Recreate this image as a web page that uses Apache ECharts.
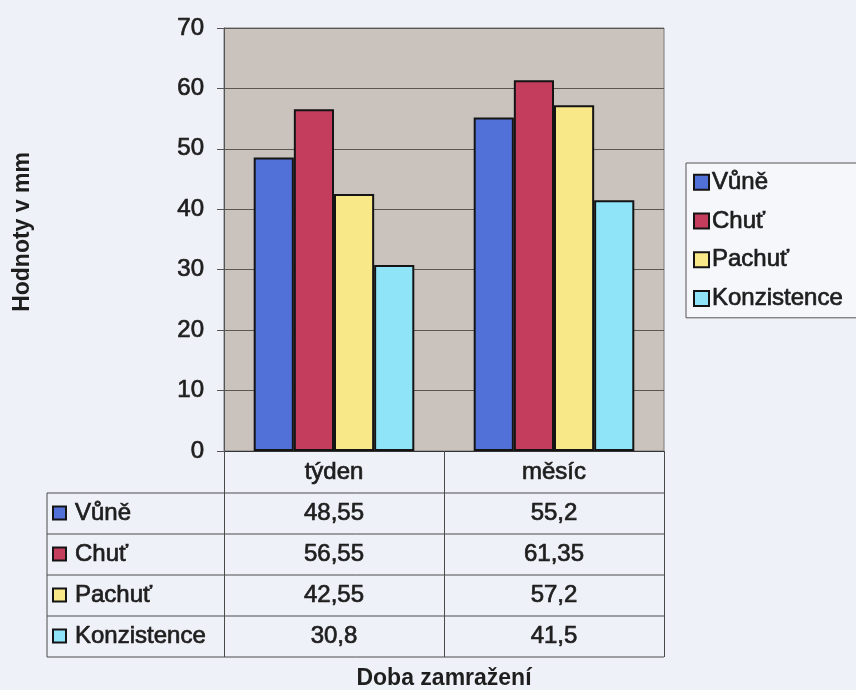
<!DOCTYPE html>
<html>
<head>
<meta charset="utf-8">
<script src="https://cdn.jsdelivr.net/npm/echarts@6/dist/echarts.min.js"></script>
<style>
  html, body { margin: 0; padding: 0; background: #eff1f8; }
  #chart { width: 856px; height: 690px; }
</style>
</head>
<body>
<div id="chart"></div>
<script>
// Doba zamražení – kategorie
const categories = ['týden', 'měsíc'];
// Hodnocené vlastnosti a jejich hodnoty (mm)
const seriesNames = ['Vůně', 'Chuť', 'Pachuť', 'Konzistence'];
const vune = [48.55, 55.2];
const chut = [56.55, 61.35];
const pachut = [42.55, 57.2];
const konzistence = [30.8, 41.5];
const yTicks = [0, 10, 20, 30, 40, 50, 60, 70];

const seriesValues = [vune, chut, pachut, konzistence];
const colors = ['#5170d8', '#c43d5d', '#f9e888', '#8fe5f7'];
const FONT = '"Liberation Sans", Arial, sans-serif';
const TEXT = '#1e1e1e';
const LINE = '#4a4a4a';
const FS = 24;
const TITLE_FS = 23;
// slightly heavier strokes for the regular-weight labels
const heavy = { textBorderColor: TEXT, textBorderWidth: 0.7 };

const grid = { left: 224, top: 28, width: 440, height: 423 };
const headerH = 42;
const rowH = 41;
const tableLeft = 47;

const fmt = v => String(v).replace('.', ',');

const chart = echarts.init(document.getElementById('chart'), null, { renderer: 'canvas' });

chart.setOption({
  backgroundColor: '#eff1f8',
  animation: false,
  textStyle: { fontFamily: FONT },
  grid: {
    left: grid.left, top: grid.top, width: grid.width, height: grid.height,
    outerBoundsMode: 'none', containLabel: false,
    show: true, backgroundColor: '#c9c2bd', borderColor: '#7a7a7a', borderWidth: 1
  },
  legend: {
    orient: 'vertical',
    left: 686, top: 163,
    padding: [7, 40, 7, 7],
    itemWidth: 15, itemHeight: 15, itemGap: 14,
    backgroundColor: '#f6f7fb',
    borderColor: '#555', borderWidth: 1, borderRadius: 0,
    icon: 'rect',
    textStyle: Object.assign({ fontSize: FS, color: TEXT, fontFamily: FONT, padding: [0, 0, 0, -2] }, heavy),
    data: seriesNames
  },
  xAxis: {
    type: 'category',
    data: categories,
    axisLine: { lineStyle: { color: '#333', width: 1 } },
    axisTick: { show: true, alignWithLabel: false, length: headerH + rowH * 4, lineStyle: { color: LINE } },
    axisLabel: Object.assign({ fontSize: FS, color: TEXT, margin: 9, fontFamily: FONT }, heavy),
    name: 'Doba zamražení',
    nameLocation: 'middle',
    nameGap: 216,
    nameTextStyle: { fontSize: TITLE_FS, fontWeight: 'bold', color: TEXT, fontFamily: FONT }
  },
  yAxis: {
    type: 'value',
    min: yTicks[0], max: yTicks[yTicks.length - 1], interval: yTicks[1] - yTicks[0],
    axisLine: { show: true, lineStyle: { color: '#555' } },
    axisTick: { show: true, length: 7, lineStyle: { color: '#555' } },
    axisLabel: Object.assign({ fontSize: FS, color: TEXT, margin: 20, fontFamily: FONT }, heavy),
    splitLine: { lineStyle: { color: '#5a5650', width: 1 } },
    name: 'Hodnoty v mm',
    nameLocation: 'middle',
    nameGap: 190,
    nameRotate: 90,
    nameTextStyle: { fontSize: TITLE_FS, fontWeight: 'bold', color: TEXT, fontFamily: FONT, padding: [0, 0, 0, 15] }
  },
  series: seriesNames.map((name, i) => ({
    name,
    type: 'bar',
    data: seriesValues[i],
    barGap: '0%',
    barCategoryGap: '27%',
    itemStyle: { color: colors[i], borderColor: '#141414', borderWidth: 2 }
  }))
});

// Tabulka dat pod osou x
const graphics = [];
const axisY = chart.convertToPixel({ yAxisIndex: 0 }, 0);
const tableRight = chart.convertToPixel({ xAxisIndex: 0 }, categories[categories.length - 1]) + grid.width / categories.length / 2;
const firstRowTop = axisY + headerH;
const tableBottom = firstRowTop + rowH * seriesNames.length;

for (let r = 0; r <= seriesNames.length; r++) {
  const y = firstRowTop + r * rowH;
  graphics.push({
    type: 'line', silent: true,
    shape: { x1: tableLeft, y1: y, x2: tableRight, y2: y },
    style: { stroke: LINE, lineWidth: 1 }
  });
}
graphics.push({
  type: 'line', silent: true,
  shape: { x1: tableLeft, y1: firstRowTop, x2: tableLeft, y2: tableBottom },
  style: { stroke: LINE, lineWidth: 1 }
});

const cellFont = FS + 'px ' + FONT;
seriesNames.forEach((name, r) => {
  const cy = firstRowTop + r * rowH + rowH / 2;
  graphics.push({
    type: 'rect', silent: true,
    shape: { x: tableLeft + 6, y: cy - 7, width: 13, height: 13 },
    style: { fill: colors[r], stroke: '#141414', lineWidth: 2 }
  });
  graphics.push({
    type: 'text', silent: true,
    x: tableLeft + 28, y: cy,
    style: { text: name, font: cellFont, fill: TEXT, stroke: TEXT, lineWidth: 0.7, verticalAlign: 'middle', align: 'left' }
  });
  categories.forEach((cat, c) => {
    const cx = chart.convertToPixel({ xAxisIndex: 0 }, cat);
    graphics.push({
      type: 'text', silent: true,
      x: cx, y: cy,
      style: { text: fmt(seriesValues[r][c]), font: cellFont, fill: TEXT, stroke: TEXT, lineWidth: 0.7, verticalAlign: 'middle', align: 'center' }
    });
  });
});

chart.setOption({ graphic: graphics });
</script>
</body>
</html>
